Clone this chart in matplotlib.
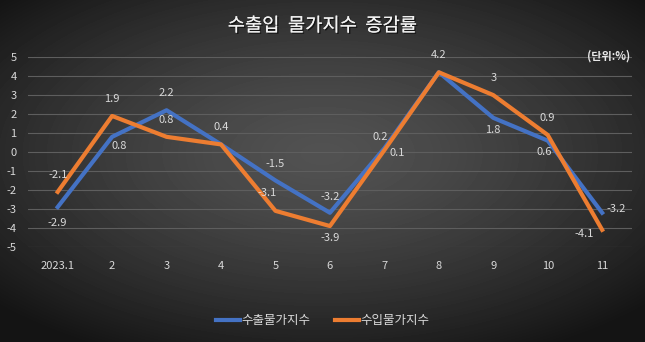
import numpy as np
import matplotlib
matplotlib.use("Agg")
import matplotlib.pyplot as plt
import matplotlib.patheffects as pe

plt.rcParams['font.family'] = ['Noto Sans CJK KR', 'DejaVu Sans']
plt.rcParams['axes.unicode_minus'] = False

months = ["2023.1", "2", "3", "4", "5", "6", "7", "8", "9", "10", "11"]
export_idx = [-2.9, 0.8, 2.2, 0.4, -1.5, -3.2, 0.2, 4.2, 1.8, 0.6, -3.2]
import_idx = [-2.1, 1.9, 0.8, 0.4, -3.1, -3.9, 0.1, 4.2, 3.0, 0.9, -4.1]

# label offsets in pixels (dx, dy), None = no label
export_off = [(0, -16), (7, -9), (0, 17), (0, 17), (0, 16), (0, 16),
              (-4, 11), (0, 17), (0, -12), (-3, -11), (14, 4)]
import_off = [(0, 17), (0, 17), (0, 17), None, (-8, 18), (0, -12),
              (13, -3), None, (0, 17), (0, 17), (-18, -4)]

blue = "#4472C4"
orange = "#ED7D31"
txt = "#D9D9D9"

fig = plt.figure(figsize=(6.45, 3.42), dpi=100)

# radial gradient background
bg = fig.add_axes([0, 0, 1, 1], zorder=-10)
gx, gy = np.meshgrid(np.linspace(-1, 1, 645), np.linspace(-1, 1, 342))
r = np.sqrt((gx / 1.2) ** 2 + ((gy + 0.1) / 1.15) ** 2)
shade = np.clip(0.32 - 0.20 * r ** 1.4, 0.08, 0.33)
bg.imshow(shade, cmap="gray", vmin=0, vmax=1, aspect="auto", extent=[0, 1, 0, 1])
bg.axis("off")

ax = fig.add_axes([0.043, 0.278, 0.937, 0.555])
ax.patch.set_alpha(0)
x = np.arange(1, len(months) + 1)

ax.plot(x, export_idx, color=blue, lw=3.0, zorder=3, label="수출물가지수")
ax.plot(x, import_idx, color=orange, lw=3.0, zorder=4, label="수입물가지수")

for xi, v, off in zip(x, export_idx, export_off):
    if off is None:
        continue
    ax.annotate(f"{v:g}", (xi, v), xytext=off, textcoords="offset pixels",
                ha="center", va="center", color=txt, fontsize=8, zorder=5)
for xi, v, off in zip(x, import_idx, import_off):
    if off is None:
        continue
    ax.annotate(f"{v:g}", (xi, v), xytext=off, textcoords="offset pixels",
                ha="center", va="center", color=txt, fontsize=8, zorder=5)

ax.set_xlim(0.45, 11.55)
ax.set_ylim(-5, 5)
ax.set_yticks(range(-5, 6))
ax.set_xticks(x)
ax.set_xticklabels(months)
ax.grid(axis="y", color="#5E5E5E", lw=0.8)
ax.set_axisbelow(True)
for s in ax.spines.values():
    s.set_visible(False)
ax.tick_params(length=0, colors=txt, labelsize=8)
ax.tick_params(axis="x", pad=10)
ax.tick_params(axis="y", pad=8)

fig.text(0.5, 0.925, "수출입  물가지수  증감률", ha="center", va="center",
         color="#F2F2F2", fontsize=13.5,
         path_effects=[pe.withSimplePatchShadow(offset=(1, -1), shadow_rgbFace="black", alpha=0.6), pe.Normal()])
fig.text(0.977, 0.835, "(단위:%)", ha="right", va="center", color="#E8E8E8",
         fontsize=8, fontweight="bold")

fig.legend(loc="center", bbox_to_anchor=(0.5, 0.062), ncol=2, frameon=False,
           labelcolor=txt, fontsize=9, handlelength=1.9, handletextpad=0.1,
           columnspacing=2.0)

fig.savefig("out.png", dpi=100)
